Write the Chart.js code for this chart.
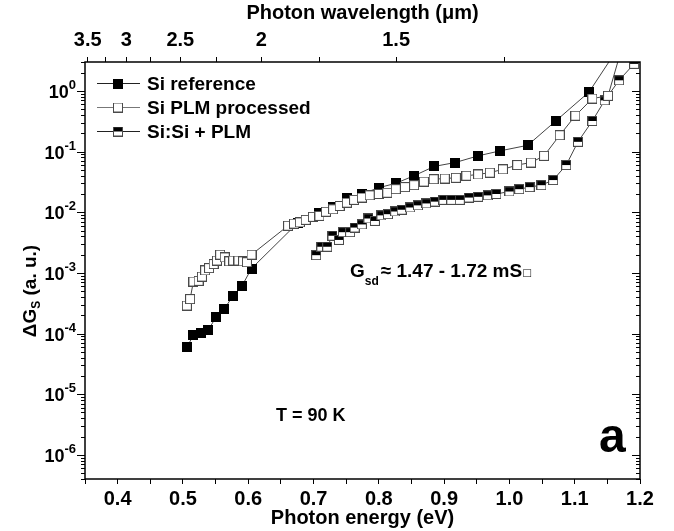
<!DOCTYPE html>
<html>
<head>
<meta charset="UTF-8" />
<title>Photoconductance spectra</title>
<script src="https://cdn.jsdelivr.net/npm/chart.js"></script>
<style>
  body { margin: 0; padding: 0; background: #fff; }
  canvas { display: block; }
</style>
</head>
<body>
<canvas id="myChart" width="674" height="531"></canvas>
<script>
// Si reference (filled squares)
const siRefX = [0.506, 0.516, 0.527, 0.539, 0.551, 0.563, 0.576, 0.590, 0.605, 0.676, 0.709, 0.730, 0.751, 0.774, 0.800, 0.826, 0.854, 0.885, 0.917, 0.952, 0.986, 1.028, 1.071, 1.122, 1.160];
const siRefY = [5.9e-5, 9.4e-5, 1.02e-4, 1.15e-4, 1.9e-4, 2.5e-4, 4.1e-4, 6.0e-4, 1.18e-3, 6.7e-3, 9.6e-3, 1.23e-2, 1.7e-2, 2.0e-2, 2.54e-2, 3.0e-2, 4.0e-2, 5.7e-2, 6.6e-2, 8.5e-2, 0.103, 0.127, 0.32, 0.96, 4.0];

// Si PLM processed (open squares)
const siPlmX = [0.506, 0.511, 0.516, 0.524, 0.529, 0.534, 0.540, 0.547, 0.552, 0.557, 0.564, 0.571, 0.577, 0.585, 0.592, 0.598, 0.605, 0.661, 0.670, 0.679, 0.688, 0.699, 0.709, 0.719, 0.730, 0.740, 0.751, 0.762, 0.774, 0.786, 0.800, 0.813, 0.826, 0.840, 0.854, 0.869, 0.884, 0.901, 0.918, 0.934, 0.952, 0.970, 0.990, 1.012, 1.033, 1.053, 1.077, 1.101, 1.127, 1.151, 1.180];
const siPlmY = [2.9e-4, 3.7e-4, 7.2e-4, 7.4e-4, 8.7e-4, 1.1e-3, 1.2e-3, 1.4e-3, 1.6e-3, 2.0e-3, 1.8e-3, 1.55e-3, 1.6e-3, 1.6e-3, 1.55e-3, 1.5e-3, 2.0e-3, 6.0e-3, 6.5e-3, 6.8e-3, 7.5e-3, 8.4e-3, 8.7e-3, 1.02e-2, 1.12e-2, 1.27e-2, 1.44e-2, 1.6e-2, 1.75e-2, 1.9e-2, 2.0e-2, 2.1e-2, 2.4e-2, 2.6e-2, 2.8e-2, 3.2e-2, 3.5e-2, 3.6e-2, 3.7e-2, 4.0e-2, 4.2e-2, 4.5e-2, 5.1e-2, 6.0e-2, 6.6e-2, 8.5e-2, 0.186, 0.39, 0.75, 0.83, 10];

// Si:Si + PLM (half-filled squares)
const siSiX = [0.704, 0.712, 0.721, 0.729, 0.739, 0.745, 0.756, 0.763, 0.774, 0.784, 0.794, 0.804, 0.814, 0.825, 0.835, 0.848, 0.860, 0.873, 0.886, 0.899, 0.911, 0.924, 0.938, 0.952, 0.967, 0.980, 1.000, 1.015, 1.031, 1.049, 1.067, 1.087, 1.105, 1.127, 1.146, 1.168, 1.191];
const siSiY = [1.96e-3, 2.7e-3, 2.7e-3, 4.1e-3, 3.5e-3, 4.7e-3, 4.7e-3, 5.6e-3, 6.3e-3, 7.9e-3, 7.2e-3, 8.9e-3, 9.3e-3, 1.03e-2, 1.1e-2, 1.2e-2, 1.3e-2, 1.4e-2, 1.5e-2, 1.6e-2, 1.6e-2, 1.6e-2, 1.75e-2, 1.8e-2, 1.9e-2, 2.0e-2, 2.2e-2, 2.4e-2, 2.6e-2, 2.8e-2, 3.4e-2, 6.0e-2, 0.145, 0.32, 0.70, 1.5, 2.8];

const seriesNames = ['Si reference', 'Si PLM processed', 'Si:Si + PLM'];
const wavelengthTicks = [3.5, 3.25, 3, 2.75, 2.5, 2.25, 2, 1.75, 1.5, 1.25]; // um, top axis
const wavelengthLabels = [3.5, 3, 2.5, 2, 1.5];
const yTickExps = [0, -1, -2, -3, -4, -5, -6];   // 10^n labels

const HC = 1.2398; // eV*um
const FONT = "'Liberation Sans', Arial, sans-serif";

function makeMarker(kind) {
  const c = document.createElement('canvas');
  c.width = 10; c.height = 10;
  const g = c.getContext('2d');
  g.fillStyle = '#fff';
  g.fillRect(0.5, 0.5, 9, 9);
  g.fillStyle = '#000';
  if (kind === 'filled') g.fillRect(0.5, 0.5, 9, 9);
  if (kind === 'half') g.fillRect(0.5, 0.5, 9, 4.5);
  g.strokeStyle = kind === 'filled' ? '#000' : '#4a4a4a';
  g.lineWidth = 1;
  g.strokeRect(0.5, 0.5, 9, 9);
  return c;
}
const markers = [makeMarker('filled'), makeMarker('open'), makeMarker('half')];

function pairs(xs, ys) {
  return xs.map((x, i) => ({ x: x, y: ys[i] }));
}

const decor = {
  id: 'decor',
  afterDraw(chart) {
    const ctx = chart.ctx;
    const a = chart.chartArea;
    const y = chart.scales.y;
    ctx.save();
    ctx.strokeStyle = '#000';
    ctx.fillStyle = '#000';

    // frame
    ctx.lineWidth = 1.5;
    ctx.strokeRect(a.left, a.top, a.right - a.left, a.bottom - a.top);

    // log ticks: outside on the left, inside on the right
    ctx.lineWidth = 1;
    for (let e = -7; e <= 0; e++) {
      for (let m = 1; m <= 9; m++) {
        const v = m * Math.pow(10, e);
        if (v < y.min || v > y.max) continue;
        const py = Math.round(y.getPixelForValue(v)) + 0.5;
        const major = m === 1;
        ctx.beginPath();
        ctx.moveTo(a.left - (major ? 8 : 4), py);
        ctx.lineTo(a.left, py);
        ctx.moveTo(a.right, py);
        ctx.lineTo(a.right - (major ? 8 : 4), py);
        ctx.stroke();
      }
    }

    // y tick labels 10^n
    ctx.textBaseline = 'alphabetic';
    yTickExps.forEach(n => {
      const py = y.getPixelForValue(Math.pow(10, n));
      const exp = String(n);
      ctx.font = 'bold 13px ' + FONT;
      const we = ctx.measureText(exp).width;
      const right = 76;
      ctx.textAlign = 'left';
      ctx.fillText(exp, right - we, py - 2);
      ctx.font = 'bold 18px ' + FONT;
      ctx.textAlign = 'right';
      ctx.fillText('10', right - we, py + 7);
    });

    // y axis title, rotated
    ctx.save();
    ctx.translate(36, 291);
    ctx.rotate(-Math.PI / 2);
    ctx.textAlign = 'left';
    const big = 'bold 19px ' + FONT, small = 'bold 12px ' + FONT;
    ctx.font = big; const w1 = ctx.measureText('\u0394G').width;
    ctx.font = small; const w2 = ctx.measureText('S').width;
    ctx.font = big; const w3 = ctx.measureText(' (a. u.)').width;
    let sx = -(w1 + w2 + w3) / 2;
    ctx.font = big; ctx.fillText('\u0394G', sx, 0); sx += w1;
    ctx.font = small; ctx.fillText('S', sx, 4); sx += w2;
    ctx.font = big; ctx.fillText(' (a. u.)', sx, 0);
    ctx.restore();

    // legend
    const rows = [83, 107, 131];
    const lineCols = ['#222', '#777', '#222'];
    ctx.textAlign = 'left';
    ctx.font = 'bold 19px ' + FONT;
    seriesNames.forEach((name, i) => {
      const ry = rows[i];
      ctx.strokeStyle = lineCols[i];
      ctx.lineWidth = 1;
      ctx.beginPath();
      ctx.moveTo(97, ry + 0.5);
      ctx.lineTo(140, ry + 0.5);
      ctx.stroke();
      ctx.drawImage(markers[i], 113, ry - 4.5);
      ctx.fillText(name, 147, ry + 7);
    });

    // annotations
    ctx.font = 'bold 19px ' + FONT;
    let gx = 350;
    ctx.fillText('G', gx, 277); gx += ctx.measureText('G').width;
    ctx.font = 'bold 12px ' + FONT;
    ctx.fillText('sd', gx, 285); gx += ctx.measureText('sd').width + 2;
    ctx.font = 'bold 19px ' + FONT;
    const gtxt = '\u2248 1.47 - 1.72 mS';
    ctx.fillText(gtxt, gx, 277); gx += ctx.measureText(gtxt).width + 1;
    ctx.font = '13px ' + FONT;
    ctx.fillText('\u25A1', gx, 277);

    ctx.font = 'bold 18px ' + FONT;
    ctx.fillText('T = 90 K', 276, 421);

    ctx.font = 'bold 48px ' + FONT;
    ctx.fillText('a', 599, 452);
    ctx.restore();
  }
};

Chart.defaults.font.family = FONT;
Chart.defaults.color = '#000';

const lineStyle = { borderColor: '#444', borderWidth: 1, pointRadius: 5, tension: 0 };

const ctx = document.getElementById('myChart').getContext('2d');
new Chart(ctx, {
  type: 'line',
  data: {
    datasets: [
      Object.assign({ label: seriesNames[1], data: pairs(siPlmX, siPlmY), pointStyle: markers[1], order: 0 }, lineStyle),
      Object.assign({ label: seriesNames[0], data: pairs(siRefX, siRefY), pointStyle: markers[0], order: 1 }, lineStyle),
      Object.assign({ label: seriesNames[2], data: pairs(siSiX, siSiY), pointStyle: markers[2], order: 2 }, lineStyle)
    ]
  },
  options: {
    responsive: false,
    animation: false,
    layout: { padding: { left: 0, right: 34, top: 0, bottom: 0 } },
    plugins: { legend: { display: false }, tooltip: { enabled: false } },
    scales: {
      x: {
        type: 'linear',
        position: 'bottom',
        min: 0.35,
        max: 1.2,
        afterFit: s => { s.height = 52; },
        grid: { drawOnChartArea: false, drawTicks: true, tickLength: 5, color: '#000', lineWidth: 1 },
        border: { display: false },
        ticks: {
          stepSize: 0.05,
          autoSkip: false,
          maxRotation: 0,
          padding: 3,
          font: { size: 20, weight: 'bold' },
          callback: v => (Math.round(v * 100) % 10 === 0 ? v.toFixed(1) : '')
        },
        title: { display: true, text: 'Photon energy (eV)', font: { size: 20, weight: 'bold' }, padding: { top: 0, bottom: 1 } }
      },
      x2: {
        type: 'linear',
        position: 'top',
        min: 0.35,
        max: 1.2,
        afterFit: s => { s.height = 62; },
        afterBuildTicks: s => { s.ticks = wavelengthTicks.map(w => ({ value: HC / w })); },
        grid: { drawOnChartArea: false, drawTicks: true, tickLength: 5, color: '#000', lineWidth: 1 },
        border: { display: false },
        ticks: {
          autoSkip: false,
          maxRotation: 0,
          padding: 5,
          font: { size: 20, weight: 'bold' },
          callback: (v, i) => (wavelengthLabels.includes(wavelengthTicks[i]) ? String(wavelengthTicks[i]) : '')
        },
        title: { display: true, text: 'Photon wavelength (\u03BCm)', font: { size: 20, weight: 'bold' }, padding: { top: 1, bottom: 0 } }
      },
      y: {
        type: 'logarithmic',
        min: 4e-7,
        max: 3,
        afterFit: s => { s.width = 85; },
        grid: { display: false },
        border: { display: false },
        ticks: { display: false }
      }
    }
  },
  plugins: [decor]
});
</script>
</body>
</html>
